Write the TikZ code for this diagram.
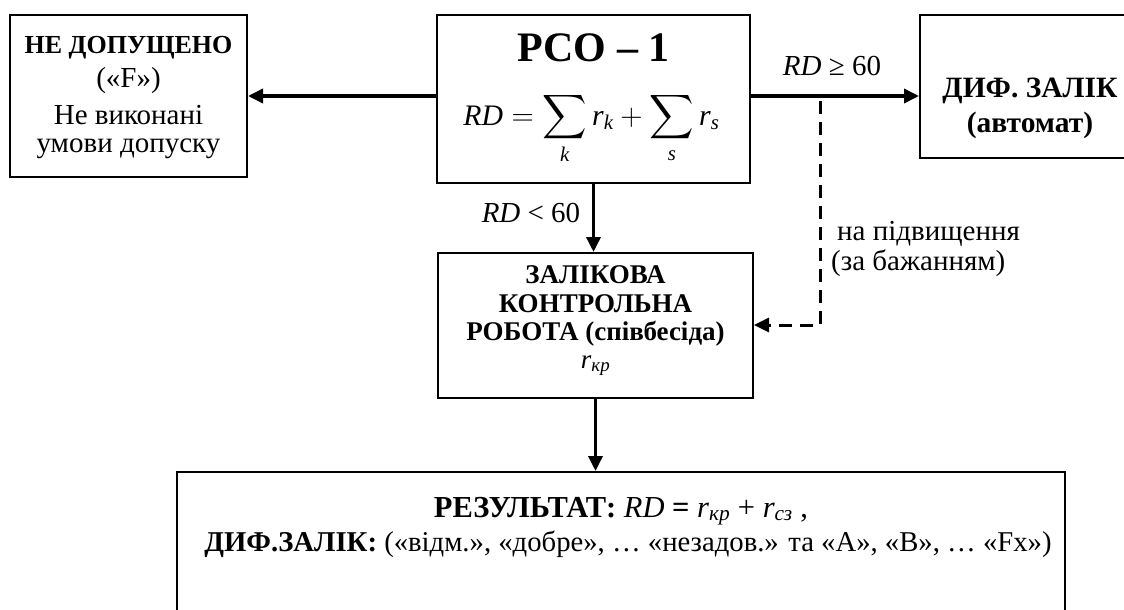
\documentclass[tikz,border=0pt]{standalone}
\usepackage{graphicx}
\usepackage{amsmath}
\usepackage{fontspec}
\setmainfont{Liberation Serif}
\usetikzlibrary{arrows.meta}
\begin{document}
\begin{tikzpicture}[x=1pt,y=-1pt,
  box/.style={draw,line width=2pt,inner sep=0pt},
  txt/.style={align=center,font=\fontsize{29}{32}\selectfont,inner sep=0pt,anchor=base},
  arr/.style={line width=3.5pt,-{Triangle[length=15pt,width=14pt]}},
  darr/.style={line width=3pt,dash pattern=on 13pt off 8pt,-{Triangle[length=15pt,width=14pt]}}]
\useasboundingbox (0,0) rectangle (1124,610);
\clip (0,0) rectangle (1124,610);
% boxes
\node[box,minimum width=237pt,minimum height=162pt] (nd) at (128.5,96) {};
\node[txt] (nd1) at (128.5,54) {\fontsize{26}{30}\selectfont\bfseries НЕ ДОПУЩЕНО};
\node[txt] (nd2) at (128.5,87) {(«F»)};
\node[txt] (nd3) at (128.5,124) {Не виконані};
\node[txt] (nd4) at (128.5,152) {умови допуску};
\node[box,minimum width=313pt,minimum height=168pt] (pco) at (593.5,99) {};
\node[txt] (pcot) at (593.5,62) {\fontsize{42}{46}\selectfont\bfseries РСО – 1};
\node[txt] (pcof) at (591.5,125) {\scalebox{1.24}{\fontsize{24}{28}\selectfont
  $\displaystyle\textit{RD}=\sum_{\textit{k}}\textit{r}_{\textit{k}}+\sum_{\textit{s}}\textit{r}_{\textit{s}}$}};
\node[box,minimum width=240pt,minimum height=143pt] (dz) at (1040,86.5) {};
\node[txt] (dzt1) at (1030,97) {\fontsize{29.5}{32}\selectfont\bfseries ДИФ. ЗАЛІК};
\node[txt] (dzt2) at (1030,132) {\fontsize{29.5}{32}\selectfont\bfseries (автомат)};
\node[box,minimum width=315pt,minimum height=145pt] (zkr) at (595.5,325.5) {};
\node[txt] (zk1) at (595.5,283) {\fontsize{27}{30}\selectfont\bfseries ЗАЛІКОВА};
\node[txt] (zk2) at (595.5,312) {\fontsize{27}{30}\selectfont\bfseries КОНТРОЛЬНА};
\node[txt] (zk3) at (595.5,340) {\fontsize{27}{30}\selectfont\bfseries РОБОТА (співбесіда)};
\node[txt] (zk4) at (595.5,368) {\fontsize{27}{30}\selectfont\textit{r}$_{\textit{кр}}$};
\node[box,minimum width=888pt,minimum height=200pt] (res) at (621,572) {};
\node[txt] (res1) at (621,517)
  {\fontsize{30.5}{34}\selectfont\textbf{РЕЗУЛЬТАТ:} \textit{RD} \textbf{=} \textit{r}$_{\textit{кр}}$ + \textit{r}$_{\textit{сз}}$ ,};
\node[txt] (res2) at (628,551)
  {\fontsize{28.7}{32}\selectfont\textbf{ДИФ.ЗАЛІК:} («відм.», «добре», … «незадов.» та «А», «В», … «Fx»)};
% labels
\node[txt] (lge) at (832,75) {\textit{RD} ≥ 60};
\node[txt] (llt) at (531,222) {\textit{RD} < 60};
\node[txt,anchor=base west] (lup1) at (837,240) {на підвищення};
\node[txt,anchor=base west] (lup2) at (831,270) {(за бажанням)};
% connectors
\draw[arr] (pco.west |- nd.east) -- (nd.east);
\draw[arr] (pco.east |- nd.east) -- (dz.west |- nd.east);
\draw[arr] (pco.south) -- (pco.south |- zkr.north);
\draw[arr] (zkr.south) -- (zkr.south |- res.north);
\coordinate (d1) at (820,101);
\coordinate (d2) at (820,325);
\draw[darr] (d1) -- (d2) -- (zkr.east |- d2);
\end{tikzpicture}
\end{document}
